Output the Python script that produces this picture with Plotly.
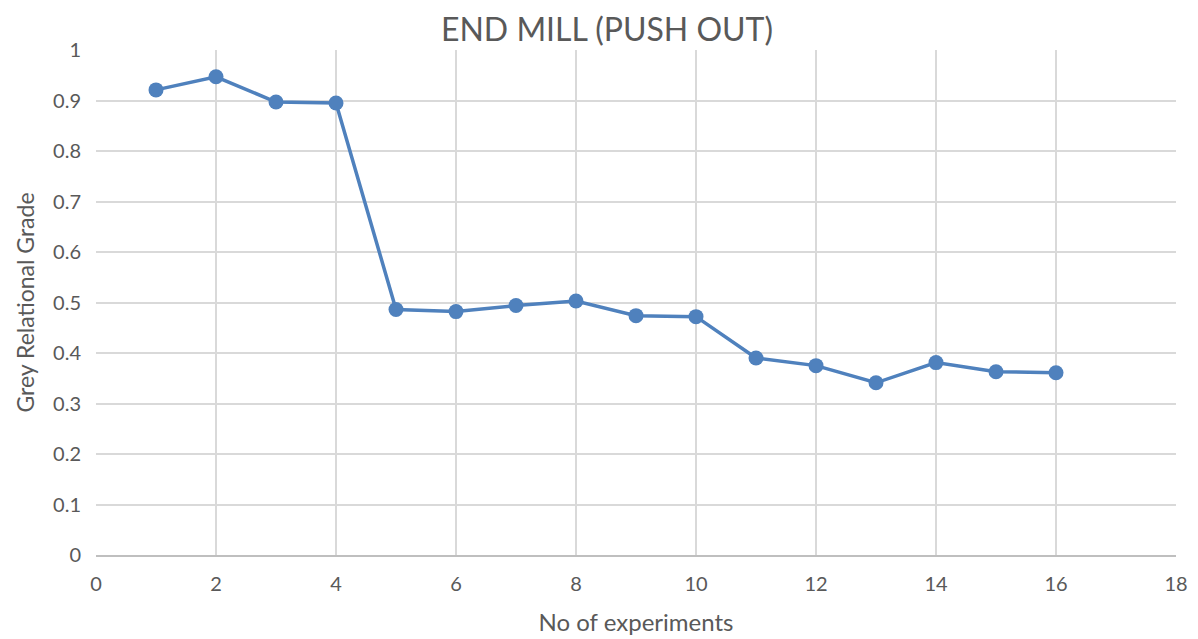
import plotly.graph_objects as go

experiments = list(range(1, 17))
grade = [0.921, 0.947, 0.897, 0.895, 0.486, 0.482, 0.494, 0.503,
         0.474, 0.472, 0.390, 0.375, 0.341, 0.381, 0.363, 0.361]

x_ticks = [0, 2, 4, 6, 8, 10, 12, 14, 16, 18]
y_ticks = [0, 0.1, 0.2, 0.3, 0.4, 0.5, 0.6, 0.7, 0.8, 0.9, 1]
y_labels = ["0", "0.1", "0.2", "0.3", "0.4", "0.5", "0.6", "0.7", "0.8", "0.9", "1"]

font_family = "Lato, Open Sans, sans-serif"
text_color = "#595959"

fig = go.Figure()
fig.add_trace(go.Scatter(
    x=experiments, y=grade, mode="lines+markers",
    line=dict(color="#4f81bd", width=3.5),
    marker=dict(color="#4f81bd", size=15),
    showlegend=False,
))

fig.update_layout(
    width=1198, height=639,
    margin=dict(l=88, r=30, t=42, b=92),
    paper_bgcolor="white", plot_bgcolor="white",
    font=dict(family=font_family, color=text_color),
    title=dict(text="END MILL (PUSH OUT)", x=0.5, xanchor="center",
               y=0.966, yanchor="middle",
               font=dict(size=32, color=text_color, family=font_family)),
)
fig.update_xaxes(
    range=[0, 18], tickvals=x_ticks, ticktext=[str(t) for t in x_ticks],
    showgrid=True, gridcolor="#d9d9d9", gridwidth=1.5,
    showline=True, linecolor="#bfbfbf", linewidth=1.5,
    zeroline=False, ticks="", ticklabelstandoff=10,
    tickfont=dict(size=20, color=text_color),
    title=dict(text="No of experiments", font=dict(size=24, color=text_color), standoff=20),
)
fig.update_yaxes(
    range=[0, 1], tickvals=y_ticks, ticktext=y_labels,
    showgrid=True, gridcolor="#d9d9d9", gridwidth=1.5,
    showline=False, zeroline=False, ticks="", ticklabelstandoff=14,
    tickfont=dict(size=20, color=text_color),
    title=dict(text="Grey Relational Grade", font=dict(size=23, color=text_color), standoff=12),
)

fig.write_html("out.html")
